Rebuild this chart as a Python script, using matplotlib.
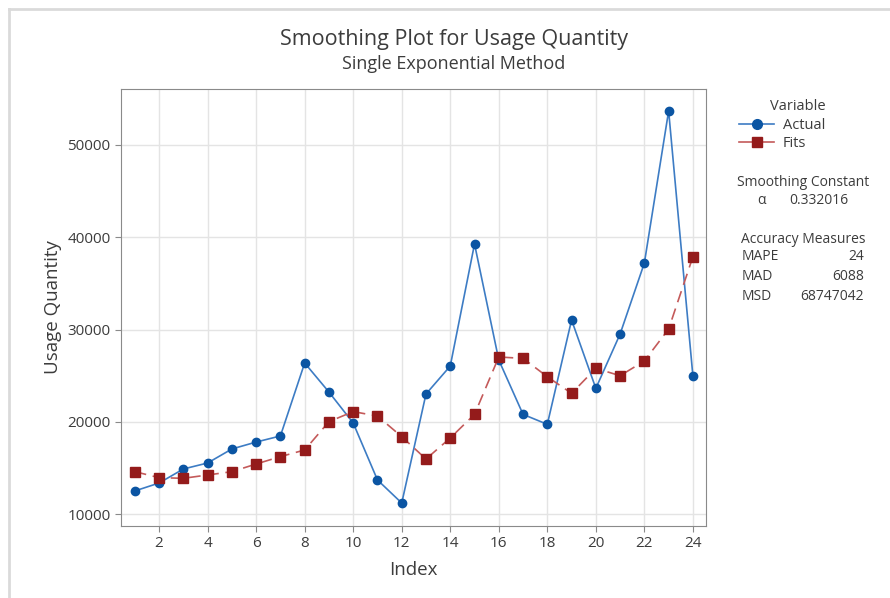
import matplotlib.pyplot as plt
from matplotlib.lines import Line2D

plt.rcParams['font.family'] = ['Open Sans', 'DejaVu Sans']

# Usage quantity series and single exponential smoothing fits
index = list(range(1, 25))
actual = [12500, 13360, 14880, 15530, 17050, 17800, 18460, 26370, 23220, 19860,
          13690, 11190, 23010, 26040, 39270, 26690, 20800, 19720, 31030, 23620,
          29510, 37210, 53690, 24960]
fits = [14590, 13940, 13870, 14230, 14590, 15420, 16220, 16940, 20010, 21100,
        20620, 18380, 15960, 18240, 20800, 27020, 26870, 24880, 23080, 25790,
        24990, 26590, 30050, 37890]
alpha = 0.332016
measures = [('MAPE', '24'), ('MAD', '6088'), ('MSD', '68747042')]

text_col = '#3c3c3c'
blue_mk, blue_ln = '#0b55a3', '#3d7cc4'
red_mk, red_ln = '#941b1b', '#c45a5a'

W, H = 890, 598
fig = plt.figure(figsize=(W / 100, H / 100), dpi=100)

# thin window frame along the top and left edges
fig.add_artist(Line2D([8.5 / W, 1], [1 - 8.5 / H] * 2, color='#dadada', lw=2))
fig.add_artist(Line2D([8.5 / W] * 2, [0, 1 - 8.5 / H], color='#dadada', lw=2))

ax = fig.add_axes([121 / W, 1 - 526 / H, (706 - 121) / W, (526 - 89) / H])

ax.plot(index, actual, color=blue_ln, lw=1.2, marker='o', ms=6,
        mfc=blue_mk, mec=blue_mk, zorder=3)
ax.plot(index, fits, color=red_ln, lw=1.2, ls=(0, (7, 4)), marker='s', ms=7,
        mfc=red_mk, mec=red_mk, zorder=3)

ax.set_xlim(0.43, 24.54)
ax.set_ylim(8700, 56070)
ax.set_xticks(range(2, 25, 2))
ax.set_yticks(range(10000, 50001, 10000))
ax.grid(True, color='#e4e4e4', lw=1)
ax.set_axisbelow(True)
for s in ax.spines.values():
    s.set_color('#8a8a8a')
ax.tick_params(colors='#8a8a8a', labelcolor=text_col, labelsize=11, length=4)
ax.set_xlabel('Index', fontsize=13.5, color=text_col, labelpad=7)
ax.set_ylabel('Usage Quantity', fontsize=13.5, color=text_col, labelpad=4)

fig.text(454 / W, 1 - 40 / H, 'Smoothing Plot for Usage Quantity', ha='center',
         va='center', fontsize=15.5, color=text_col)
fig.text(454 / W, 1 - 64 / H, 'Single Exponential Method', ha='center',
         va='center', fontsize=13, color=text_col)

# legend and summary panel on the right
handles = [Line2D([], [], color=blue_ln, lw=1.2, marker='o', ms=7, mfc=blue_mk, mec=blue_mk),
           Line2D([], [], color=red_ln, lw=1.2, marker='s', ms=7, mfc=red_mk, mec=red_mk)]
leg = fig.legend(handles, ['Actual', 'Fits'], title='Variable', loc='upper left',
                 bbox_to_anchor=(726 / W, 1 - 86 / H), frameon=False,
                 fontsize=10.5, title_fontsize=10.5, handlelength=2.4, handletextpad=0.6,
                 labelspacing=0.25, alignment='right')
for t in leg.get_texts():
    t.set_color(text_col)
leg.get_title().set_color(text_col)

fs = 10
fig.text(803 / W, 1 - 183 / H, 'Smoothing Constant', ha='center', va='center',
         fontsize=fs, color=text_col)
fig.text(762 / W, 1 - 201 / H, 'α', ha='center', va='center', fontsize=fs, color=text_col)
fig.text(789 / W, 1 - 201 / H, f'{alpha:.6f}', ha='left', va='center',
         fontsize=fs, color=text_col)
fig.text(803 / W, 1 - 239 / H, 'Accuracy Measures', ha='center', va='center',
         fontsize=fs, color=text_col)
for i, (name, val) in enumerate(measures):
    y = 1 - (257 + 19.5 * i) / H
    fig.text(742 / W, y, name, ha='left', va='center', fontsize=fs, color=text_col)
    fig.text(864 / W, y, val, ha='right', va='center', fontsize=fs, color=text_col)

fig.savefig('out.png', dpi=100)
